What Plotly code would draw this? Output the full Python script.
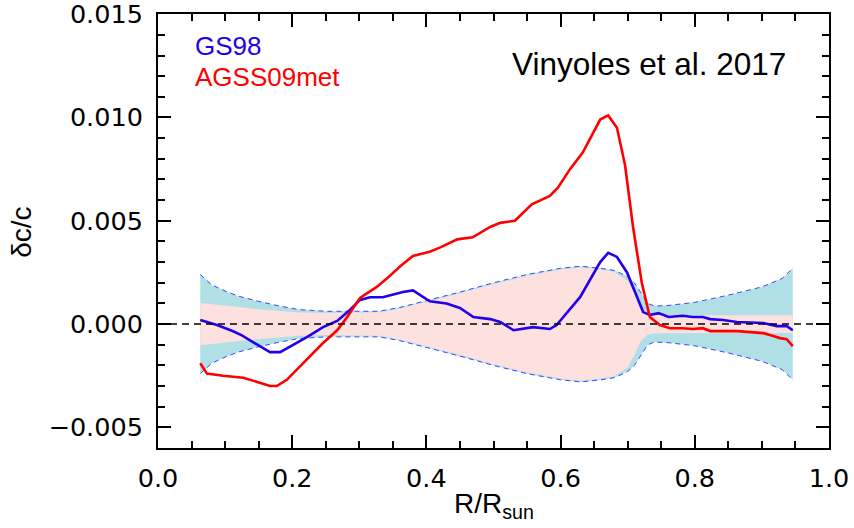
import plotly.graph_objects as go

# ---------------- data ----------------
band_r = [0.063, 0.08, 0.10, 0.12, 0.15, 0.18, 0.21, 0.25, 0.30, 0.33, 0.36, 0.40,
          0.45, 0.50, 0.55, 0.60, 0.63, 0.66, 0.68, 0.70, 0.71, 0.72, 0.73, 0.74,
          0.76, 0.80, 0.85, 0.90, 0.93, 0.946]
# total (model + helioseismic) uncertainty half-width
band_outer = [0.0024, 0.0019, 0.0016, 0.00135, 0.0011, 0.00088, 0.0007, 0.00062, 0.00062,
              0.00062, 0.0008, 0.00112, 0.00155, 0.0020, 0.0024, 0.0027, 0.0028, 0.0027,
              0.0026, 0.0023, 0.0020, 0.0015, 0.0010, 0.00087, 0.0009, 0.00105, 0.0014,
              0.0018, 0.0022, 0.0027]
# model uncertainty half-width
band_inner = [0.00102, 0.00095, 0.00088, 0.00082, 0.00072, 0.00063, 0.00056, 0.00053,
              0.00055, 0.00057, 0.00075, 0.00107, 0.00149, 0.00194, 0.00234, 0.00264,
              0.00274, 0.00264, 0.00252, 0.0021, 0.0015, 0.0008, 0.0005, 0.00044,
              0.00043, 0.00043, 0.00043, 0.00043, 0.00043, 0.00043]

gs98_r = [0.063, 0.088, 0.112, 0.125, 0.148, 0.167, 0.182, 0.197, 0.222, 0.246, 0.267,
          0.286, 0.301, 0.316, 0.335, 0.365, 0.38, 0.405, 0.43, 0.45, 0.47, 0.495, 0.51,
          0.53, 0.559, 0.584, 0.594, 0.629, 0.659, 0.671, 0.684, 0.699, 0.723, 0.733,
          0.746, 0.761, 0.782, 0.797, 0.812, 0.823, 0.842, 0.863, 0.902, 0.922, 0.937,
          0.946]
gs98_dc = [0.0002, -0.00005, -0.00035, -0.00055, -0.001, -0.00136, -0.00136, -0.0011,
           -0.00063, -0.00015, 0.00015, 0.00068, 0.00117, 0.0013, 0.0013, 0.00155, 0.00163,
           0.0011, 0.001, 0.00078, 0.00034, 0.00024, 0.0001, -0.0003, -0.00015, -0.00024,
           -0.00005, 0.0013, 0.003, 0.00345, 0.00325, 0.0025, 0.00058, 0.00044, 0.00053,
           0.00034, 0.0004, 0.00034, 0.00034, 0.00024, 0.0002, 0.0001, 0.00005, -0.0001,
           -0.0001, -0.0003]

agss_r = [0.063, 0.073, 0.097, 0.127, 0.148, 0.167, 0.177, 0.192, 0.216, 0.246, 0.267,
          0.282, 0.301, 0.326, 0.341, 0.361, 0.38, 0.405, 0.42, 0.446, 0.469, 0.495, 0.51,
          0.532, 0.557, 0.584, 0.596, 0.614, 0.633, 0.659, 0.671, 0.684, 0.696, 0.708,
          0.721, 0.733, 0.748, 0.763, 0.782, 0.797, 0.812, 0.823, 0.863, 0.882, 0.902,
          0.912, 0.927, 0.937, 0.946]
agss_dc = [-0.0019, -0.0024, -0.0025, -0.0026, -0.0028, -0.003, -0.003, -0.0027, -0.0019,
           -0.00092, -0.0003, 0.00034, 0.00126, 0.0018, 0.0022, 0.0028, 0.0033, 0.0035,
           0.0037, 0.0041, 0.0042, 0.0047, 0.0049, 0.0050, 0.0058, 0.0062, 0.0066, 0.0075,
           0.0083, 0.0099, 0.0101, 0.0095, 0.0077, 0.0047, 0.0020, 0.00034, -0.00005,
           -0.0002, -0.0002, -0.00024, -0.0002, -0.00034, -0.00034, -0.0004, -0.00044,
           -0.00053, -0.00068, -0.00073, -0.00107]

labels = ["GS98", "AGSS09met"]
credit = "Vinyoles et al. 2017"

# ---------------- figure ----------------
FONT = "Liberation Sans, Arial, Helvetica, sans-serif"
TICKFONT = "DejaVu Sans, sans-serif"
CYAN = "rgb(176,223,229)"
PINK = "rgb(253,225,222)"
BLUE = "rgb(34,0,238)"
RED = "rgb(255,0,0)"

fig = go.Figure()

outer_up = band_outer
outer_lo = [-v for v in band_outer]
inner_up = band_inner
inner_lo = [-v for v in band_inner]

fig.add_trace(go.Scatter(x=band_r + band_r[::-1], y=outer_up + outer_lo[::-1],
                         fill="toself", fillcolor=CYAN, line=dict(width=0),
                         mode="lines", hoverinfo="skip", showlegend=False))
fig.add_trace(go.Scatter(x=band_r + band_r[::-1], y=inner_up + inner_lo[::-1],
                         fill="toself", fillcolor=PINK, line=dict(width=0),
                         mode="lines", hoverinfo="skip", showlegend=False))
for edge in (outer_up, outer_lo):
    fig.add_trace(go.Scatter(x=band_r, y=edge, mode="lines",
                             line=dict(color="rgb(60,70,255)", width=1, dash="5px,4px"),
                             hoverinfo="skip", showlegend=False))

fig.add_shape(type="line", xref="paper", yref="y", x0=0, x1=1, y0=0, y1=0,
              line=dict(color="black", width=1.6, dash="7px,5px"))

fig.add_trace(go.Scatter(x=gs98_r, y=gs98_dc, mode="lines", name=labels[0],
                         line=dict(color=BLUE, width=2.6), showlegend=False))
fig.add_trace(go.Scatter(x=agss_r, y=agss_dc, mode="lines", name=labels[1],
                         line=dict(color=RED, width=2.6), showlegend=False))

axis_common = dict(showline=True, linecolor="black", linewidth=2, mirror="allticks",
                   ticks="inside", tickcolor="black", tickwidth=1.5, ticklen=13,
                   showgrid=False, zeroline=False, ticklabeloverflow="allow",
                   automargin=False,
                   tickfont=dict(family=TICKFONT, size=25.5, color="black"))

fig.update_xaxes(range=[0, 1], dtick=0.2, tick0=0, tickformat=".1f",
                 ticklabelstandoff=6,
                 minor=dict(dtick=0.05, ticklen=7, ticks="inside", tickcolor="black",
                            tickwidth=1.5, showgrid=False),
                 **axis_common)
fig.update_yaxes(range=[-0.006, 0.01501], dtick=0.005, tick0=0, tickformat=".3f",
                 ticklabelstandoff=8,
                 minor=dict(dtick=0.001, ticklen=7, ticks="inside", tickcolor="black",
                            tickwidth=1.5, showgrid=False),
                 **axis_common)

fig.add_annotation(text=labels[0], xref="paper", yref="paper", x=0.052, y=0.926,
                   xanchor="left", yanchor="middle", showarrow=False,
                   font=dict(family=FONT, size=26, color=BLUE))
fig.add_annotation(text=labels[1], xref="paper", yref="paper", x=0.052, y=0.855,
                   xanchor="left", yanchor="middle", showarrow=False,
                   font=dict(family=FONT, size=26, color=RED))
fig.add_annotation(text=credit, xref="paper", yref="paper", x=0.731, y=0.885,
                   xanchor="center", yanchor="middle", showarrow=False,
                   font=dict(family=FONT, size=31.5, color="black"))
fig.add_annotation(text="δc/c", xref="paper", yref="paper", x=-0.2027, y=0.498,
                   xanchor="center", yanchor="middle", textangle=-90, showarrow=False,
                   font=dict(family=FONT, size=28, color="black"))
fig.add_annotation(text="R/R<sub>sun</sub>", xref="paper", yref="paper", x=0.5, y=-0.088,
                   xanchor="center", yanchor="top", showarrow=False,
                   font=dict(family=FONT, size=28, color="black"))

fig.update_layout(width=854, height=528, plot_bgcolor="white", paper_bgcolor="white",
                  margin=dict(l=158, r=25, t=14, b=80, autoexpand=False),
                  showlegend=False)

fig.write_html("out.html")
